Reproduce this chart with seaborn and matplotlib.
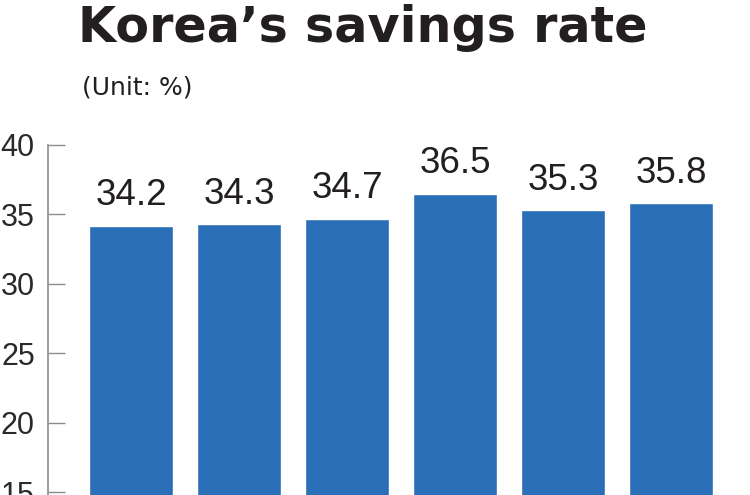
import matplotlib
matplotlib.use("Agg")
import matplotlib.pyplot as plt
import seaborn as sns
import pandas as pd

# Data (x-axis labels are cropped out in the reference)
categories = ["2012", "2013", "2014", "2015", "2016", "2017"]
values = [34.2, 34.3, 34.7, 36.5, 35.3, 35.8]
yticks = [15, 20, 25, 30, 35, 40]
title = "Korea\u2019s savings rate"
unit_text = "(Unit: %)"

df = pd.DataFrame({"year": categories, "rate": values})

sns.set_style("white")
plt.rcParams["font.family"] = ["Liberation Sans", "DejaVu Sans"]

W, H = 750, 495
fig = plt.figure(figsize=(W / 100, H / 100), dpi=100)
ax = fig.add_axes([48 / W, 0, 1 - 48 / W, 1 - 145 / H])

bar_color = "#2b6fb8"
sns.barplot(data=df, x="year", y="rate", color=bar_color, saturation=1,
            width=0.78, ax=ax)

ax.set_xlim(-0.7685, 5.731)
ax.set_ylim(14.8, 40)
ax.set_yticks(yticks)
ax.set_yticklabels([str(t) for t in yticks])
ax.set_xlabel("")
ax.set_ylabel("")
ax.set_xticks([])

for s in ["top", "right", "bottom"]:
    ax.spines[s].set_visible(False)
ax.spines["left"].set_color("#8c8c8c")
ax.spines["left"].set_linewidth(1.2)
ax.tick_params(axis="y", left=True, direction="in", length=12.5, width=1.0,
               color="#8c8c8c", pad=9.5, labelsize=22, labelcolor="#2a2a2a")

for cont in ax.containers:
    ax.bar_label(cont, labels=[f"{v:.1f}" for v in values], padding=9,
                 fontsize=26.5, color="#231f20")

fig.text(78 / W, 1 - 42 / H, title, fontsize=35.5, fontweight="bold",
         family="DejaVu Sans", color="#231f20", va="baseline", ha="left")
fig.text(82 / W, 1 - 95 / H, unit_text, fontsize=18, family="DejaVu Sans",
         color="#231f20", va="baseline", ha="left")

fig.savefig("out.png", dpi=100)
